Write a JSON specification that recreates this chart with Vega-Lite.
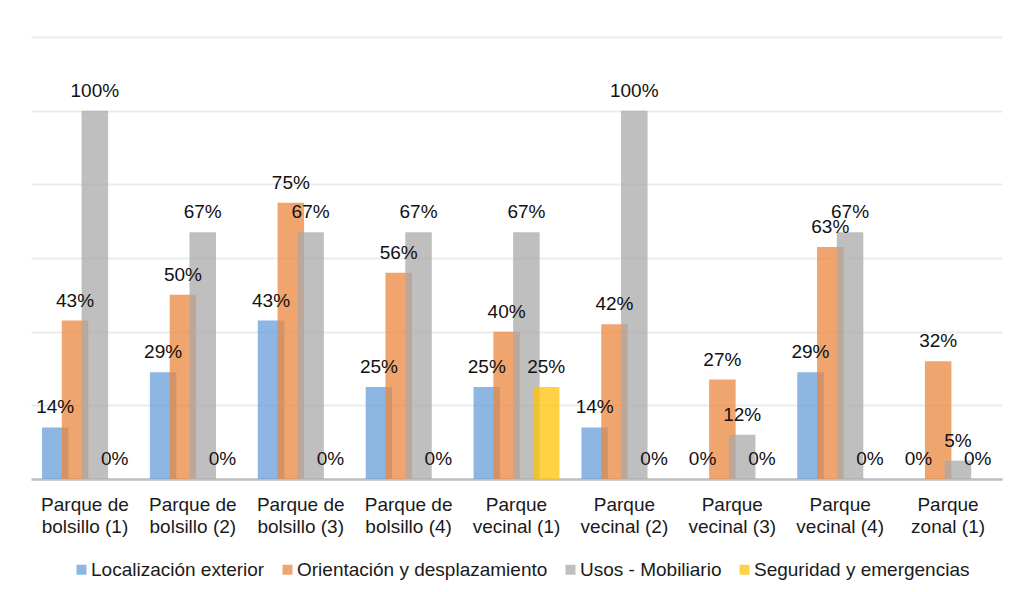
{
  "$schema": "https://vega.github.io/schema/vega-lite/v6.json",
  "width": 971,
  "height": 442,
  "autosize": {"type": "none"},
  "padding": {"left": 31, "top": 37, "right": 11, "bottom": 113},
  "background": "white",
  "config": {
    "view": {"stroke": null},
    "font": "Liberation Sans",
    "text": {"font": "Liberation Sans"}
  },
  "data": {
    "values": [
      {"parque": "Parque de bolsillo (1)", "serie": "Localización exterior", "valor": 0.14},
      {"parque": "Parque de bolsillo (2)", "serie": "Localización exterior", "valor": 0.29},
      {"parque": "Parque de bolsillo (3)", "serie": "Localización exterior", "valor": 0.43},
      {"parque": "Parque de bolsillo (4)", "serie": "Localización exterior", "valor": 0.25},
      {"parque": "Parque vecinal (1)", "serie": "Localización exterior", "valor": 0.25},
      {"parque": "Parque vecinal (2)", "serie": "Localización exterior", "valor": 0.14},
      {"parque": "Parque vecinal (3)", "serie": "Localización exterior", "valor": 0},
      {"parque": "Parque vecinal (4)", "serie": "Localización exterior", "valor": 0.29},
      {"parque": "Parque zonal (1)", "serie": "Localización exterior", "valor": 0},
      {"parque": "Parque de bolsillo (1)", "serie": "Orientación y desplazamiento", "valor": 0.43},
      {"parque": "Parque de bolsillo (2)", "serie": "Orientación y desplazamiento", "valor": 0.50},
      {"parque": "Parque de bolsillo (3)", "serie": "Orientación y desplazamiento", "valor": 0.75},
      {"parque": "Parque de bolsillo (4)", "serie": "Orientación y desplazamiento", "valor": 0.56},
      {"parque": "Parque vecinal (1)", "serie": "Orientación y desplazamiento", "valor": 0.40},
      {"parque": "Parque vecinal (2)", "serie": "Orientación y desplazamiento", "valor": 0.42},
      {"parque": "Parque vecinal (3)", "serie": "Orientación y desplazamiento", "valor": 0.27},
      {"parque": "Parque vecinal (4)", "serie": "Orientación y desplazamiento", "valor": 0.63},
      {"parque": "Parque zonal (1)", "serie": "Orientación y desplazamiento", "valor": 0.32},
      {"parque": "Parque de bolsillo (1)", "serie": "Usos - Mobiliario", "valor": 1.00},
      {"parque": "Parque de bolsillo (2)", "serie": "Usos - Mobiliario", "valor": 0.67},
      {"parque": "Parque de bolsillo (3)", "serie": "Usos - Mobiliario", "valor": 0.67},
      {"parque": "Parque de bolsillo (4)", "serie": "Usos - Mobiliario", "valor": 0.67},
      {"parque": "Parque vecinal (1)", "serie": "Usos - Mobiliario", "valor": 0.67},
      {"parque": "Parque vecinal (2)", "serie": "Usos - Mobiliario", "valor": 1.00},
      {"parque": "Parque vecinal (3)", "serie": "Usos - Mobiliario", "valor": 0.12},
      {"parque": "Parque vecinal (4)", "serie": "Usos - Mobiliario", "valor": 0.67},
      {"parque": "Parque zonal (1)", "serie": "Usos - Mobiliario", "valor": 0.05},
      {"parque": "Parque de bolsillo (1)", "serie": "Seguridad y emergencias", "valor": 0},
      {"parque": "Parque de bolsillo (2)", "serie": "Seguridad y emergencias", "valor": 0},
      {"parque": "Parque de bolsillo (3)", "serie": "Seguridad y emergencias", "valor": 0},
      {"parque": "Parque de bolsillo (4)", "serie": "Seguridad y emergencias", "valor": 0},
      {"parque": "Parque vecinal (1)", "serie": "Seguridad y emergencias", "valor": 0.25},
      {"parque": "Parque vecinal (2)", "serie": "Seguridad y emergencias", "valor": 0},
      {"parque": "Parque vecinal (3)", "serie": "Seguridad y emergencias", "valor": 0},
      {"parque": "Parque vecinal (4)", "serie": "Seguridad y emergencias", "valor": 0},
      {"parque": "Parque zonal (1)", "serie": "Seguridad y emergencias", "valor": 0}
    ]
  },
  "encoding": {
    "x": {
      "field": "parque",
      "type": "nominal",
      "sort": null,
      "scale": {"paddingInner": 0, "paddingOuter": 0},
      "axis": {
        "title": null,
        "orient": "bottom",
        "ticks": false,
        "domainColor": "#bfbfbf",
        "domainWidth": 2.5,
        "labelAngle": 0,
        "labelFont": "Liberation Sans",
        "labelFontSize": 19,
        "labelColor": "#1a1a1a",
        "labelPadding": 16,
        "labelLineHeight": 22.5,
        "labelOverlap": false,
        "labelLimit": 200,
        "labelExpr": "indexof(datum.label, 'bolsillo') >= 0 ? ['Parque de', substring(datum.label, 10)] : ['Parque', substring(datum.label, 7)]"
      }
    },
    "xOffset": {
      "field": "serie",
      "type": "nominal",
      "sort": ["Localización exterior", "Orientación y desplazamiento", "Usos - Mobiliario", "Seguridad y emergencias"],
      "scale": {"paddingInner": 0, "paddingOuter": 0.725}
    },
    "y": {
      "field": "valor",
      "type": "quantitative",
      "scale": {"domain": [0, 1.2]},
      "axis": {
        "title": null,
        "labels": false,
        "ticks": false,
        "domain": false,
        "grid": true,
        "values": [0, 0.2, 0.4, 0.6, 0.8, 1.0, 1.2],
        "gridColor": "#ebebeb",
        "gridWidth": 2
      }
    }
  },
  "layer": [
    {
      "mark": {"type": "bar", "width": 26.5, "opacity": 0.75},
      "encoding": {
        "color": {
          "field": "serie",
          "type": "nominal",
          "scale": {
            "domain": ["Localización exterior", "Orientación y desplazamiento", "Usos - Mobiliario", "Seguridad y emergencias"],
            "range": ["#679ed9", "#ec873e", "#aaaaaa", "#ffc308"]
          },
          "legend": {
            "title": null,
            "orient": "none",
            "direction": "horizontal",
            "legendX": 41,
            "legendY": 523,
            "padding": 0,
            "symbolType": "square",
            "symbolSize": 100,
            "symbolStrokeWidth": 0,
            "symbolOpacity": 0.75,
            "labelFont": "Liberation Sans",
            "labelFontSize": 19,
            "labelColor": "#1a1a1a",
            "labelOffset": 0,
            "columnPadding": 13,
            "labelLimit": 400
          }
        }
      }
    },
    {
      "mark": {"type": "text", "baseline": "alphabetic", "dy": -14, "fontSize": 19, "color": "#111111", "font": "Liberation Sans"},
      "encoding": {
        "text": {"field": "valor", "type": "quantitative", "format": ".0%"}
      }
    }
  ]
}
